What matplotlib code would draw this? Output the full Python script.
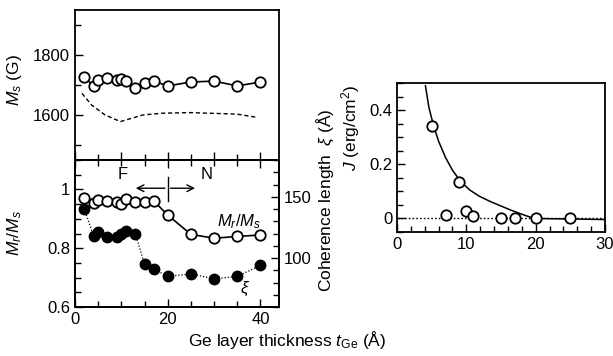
import matplotlib
matplotlib.use("Agg")
import matplotlib.pyplot as plt
from matplotlib.ticker import MultipleLocator

plt.rcParams['font.family'] = ['Liberation Sans', 'DejaVu Sans']
plt.rcParams['mathtext.fontset'] = 'custom'
plt.rcParams['mathtext.rm'] = 'Liberation Sans'
plt.rcParams['mathtext.it'] = 'Liberation Sans:italic'
plt.rcParams['mathtext.bf'] = 'Liberation Sans:bold'
plt.rcParams['font.size'] = 12

# ---- data ----
t_ge = [2, 4, 5, 7, 9, 10, 11, 13, 15, 17, 20, 25, 30, 35, 40]
ms_vals = [1726, 1697, 1717, 1722, 1717, 1720, 1713, 1691, 1708, 1713, 1697, 1710, 1713, 1697, 1710]
ms_dash_x = [1.5, 3.6, 6.5, 9.8, 14.6, 18.9, 24.7, 34.9, 39.3]
ms_dash_y = [1672, 1633, 1600, 1578, 1600, 1606, 1608, 1603, 1592]
mr_ms = [0.972, 0.955, 0.963, 0.960, 0.958, 0.951, 0.966, 0.957, 0.957, 0.960, 0.913, 0.847, 0.834, 0.840, 0.845]
xi_vals = [140, 118, 121, 117, 117, 120, 122, 120, 95, 91, 85, 87, 83, 85, 94]
j_x = [5, 7, 9, 10, 11, 15, 17, 20, 25]
j_y = [0.342, 0.012, 0.136, 0.027, 0.008, 0.002, 0.002, 0.002, 0.002]
jfit_x = [4.1, 4.6, 5.3, 6, 7, 8, 9.2, 10.5, 11.8, 13.5, 15, 16.5, 18.4, 19.8, 30]
jfit_y = [0.49, 0.41, 0.34, 0.285, 0.225, 0.178, 0.136, 0.105, 0.083, 0.062, 0.046, 0.03, 0.012, 0.0, -0.004]

W, H = 613, 356
fig = plt.figure(figsize=(W / 100, H / 100), dpi=100)

def rect(l, r, t, b):
    return [l / W, 1 - b / H, (r - l) / W, (b - t) / H]

ax1 = fig.add_axes(rect(75, 279, 10, 160))
ax2 = fig.add_axes(rect(75, 279, 160, 307))
ax3 = fig.add_axes(rect(397, 605, 83, 232))

mk = dict(marker='o', markersize=7.5, markerfacecolor='white', markeredgecolor='black',
          markeredgewidth=1.3, color='black', lw=1.2)

# --- top-left: Ms ---
ax1.plot(t_ge, ms_vals, **mk, zorder=3)
ax1.plot(ms_dash_x, ms_dash_y, ls=(0, (3, 2)), color='black', lw=1.0)
ax1.set_xlim(0, 44)
ax1.set_ylim(1450, 1950)
ax1.yaxis.set_major_locator(MultipleLocator(200))
ax1.yaxis.set_minor_locator(MultipleLocator(100))
ax1.xaxis.set_major_locator(MultipleLocator(10))
ax1.xaxis.set_minor_locator(MultipleLocator(5))
ax1.tick_params(which='both', direction='in', labelbottom=False, top=False, right=False)
ax1.tick_params(which='major', length=6, width=1)
ax1.tick_params(which='minor', length=4, width=1)
ax1.yaxis.set_major_formatter(plt.FuncFormatter(lambda v, p: f"{int(v)}"))

# --- bottom-left: Mr/Ms and xi ---
ax2.plot(t_ge, mr_ms, **mk, zorder=3)
ax2.set_xlim(0, 44)
ax2.set_ylim(0.6, 1.1)
ax2.set_yticks([0.6, 0.8, 1.0])
ax2.set_yticklabels(['0.6', '0.8', '1'])
ax2.yaxis.set_minor_locator(MultipleLocator(0.05))
ax2.set_xticks([0, 20, 40])
ax2.xaxis.set_minor_locator(MultipleLocator(5))
ax2.tick_params(which='both', direction='in', top=True, right=False)
ax2.tick_params(which='major', length=6, width=1)
ax2.tick_params(which='minor', length=4, width=1)

ax2b = ax2.twinx()
ax2b.plot(t_ge, xi_vals, marker='o', markersize=7.5, markerfacecolor='black',
          markeredgecolor='black', color='black', ls=(0, (1, 1.5)), lw=0.9)
ax2b.set_ylim(60, 180)
ax2b.set_yticks([100, 150])
ax2b.yaxis.set_minor_locator(MultipleLocator(10))
ax2b.tick_params(which='both', direction='in')
ax2b.tick_params(which='major', length=6, width=1)
ax2b.tick_params(which='minor', length=4, width=1)

ax2.text(10.2, 1.052, 'F', ha='center', va='center', fontsize=12)
ax2.text(28.4, 1.052, 'N', ha='center', va='center', fontsize=12)
ax2.annotate('', xy=(12.5, 1.004), xytext=(20, 1.004),
             arrowprops=dict(arrowstyle='->', lw=1.0, color='black'))
ax2.annotate('', xy=(26.5, 1.004), xytext=(20, 1.004),
             arrowprops=dict(arrowstyle='->', lw=1.0, color='black'))
ax2.plot([20, 20], [0.962, 1.042], color='black', lw=1.0)
ax2.text(35.3, 0.889, r'$M_r/M_s$', ha='center', va='center', fontsize=12)
ax2.text(36.7, 0.662, r'$\xi$', ha='center', va='center', fontsize=12)

# --- right: J ---
ax3.axhline(0, color='black', ls=(0, (1.2, 1.5)), lw=1.0)
ax3.plot(jfit_x, jfit_y, color='black', lw=1.1)
ax3.plot(j_x, j_y, ls='none', marker='o', markersize=7.5, markerfacecolor='white',
         markeredgecolor='black', markeredgewidth=1.3, zorder=3)
ax3.set_xlim(0, 30)
ax3.set_ylim(-0.05, 0.5)
ax3.set_xticks([0, 10, 20, 30])
ax3.xaxis.set_minor_locator(MultipleLocator(2))
ax3.set_yticks([0, 0.2, 0.4])
ax3.set_yticklabels(['0', '0.2', '0.4'])
ax3.yaxis.set_minor_locator(MultipleLocator(0.05))
ax3.tick_params(which='both', direction='in', top=False, right=False)
ax3.tick_params(which='major', length=6, width=1)
ax3.tick_params(which='minor', length=4, width=1)

for a in (ax1, ax2, ax2b, ax3):
    for s in a.spines.values():
        s.set_linewidth(1.3)

# --- labels ---
fig.text(15 / W, 1 - 80 / H, r'$M_s$ (G)', rotation=90, ha='center', va='center', fontsize=12.5)
fig.text(15 / W, 1 - 233 / H, r'$M_r / M_s$', rotation=90, ha='center', va='center', fontsize=12.5)
fig.text(325 / W, 1 - 200 / H, r'Coherence length  $\xi$ (Å)', rotation=90,
         ha='center', va='center', fontsize=12.5)
fig.text(351 / W, 1 - 128 / H, r'$J$ (erg/cm$^2$)', rotation=90, ha='center', va='center', fontsize=12.5)
fig.text(287 / W, 1 - 340 / H, r'Ge layer thickness $t_{\rm Ge}$ (Å)', ha='center', va='center',
         fontsize=12.5)

fig.savefig('out.png', dpi=100)
